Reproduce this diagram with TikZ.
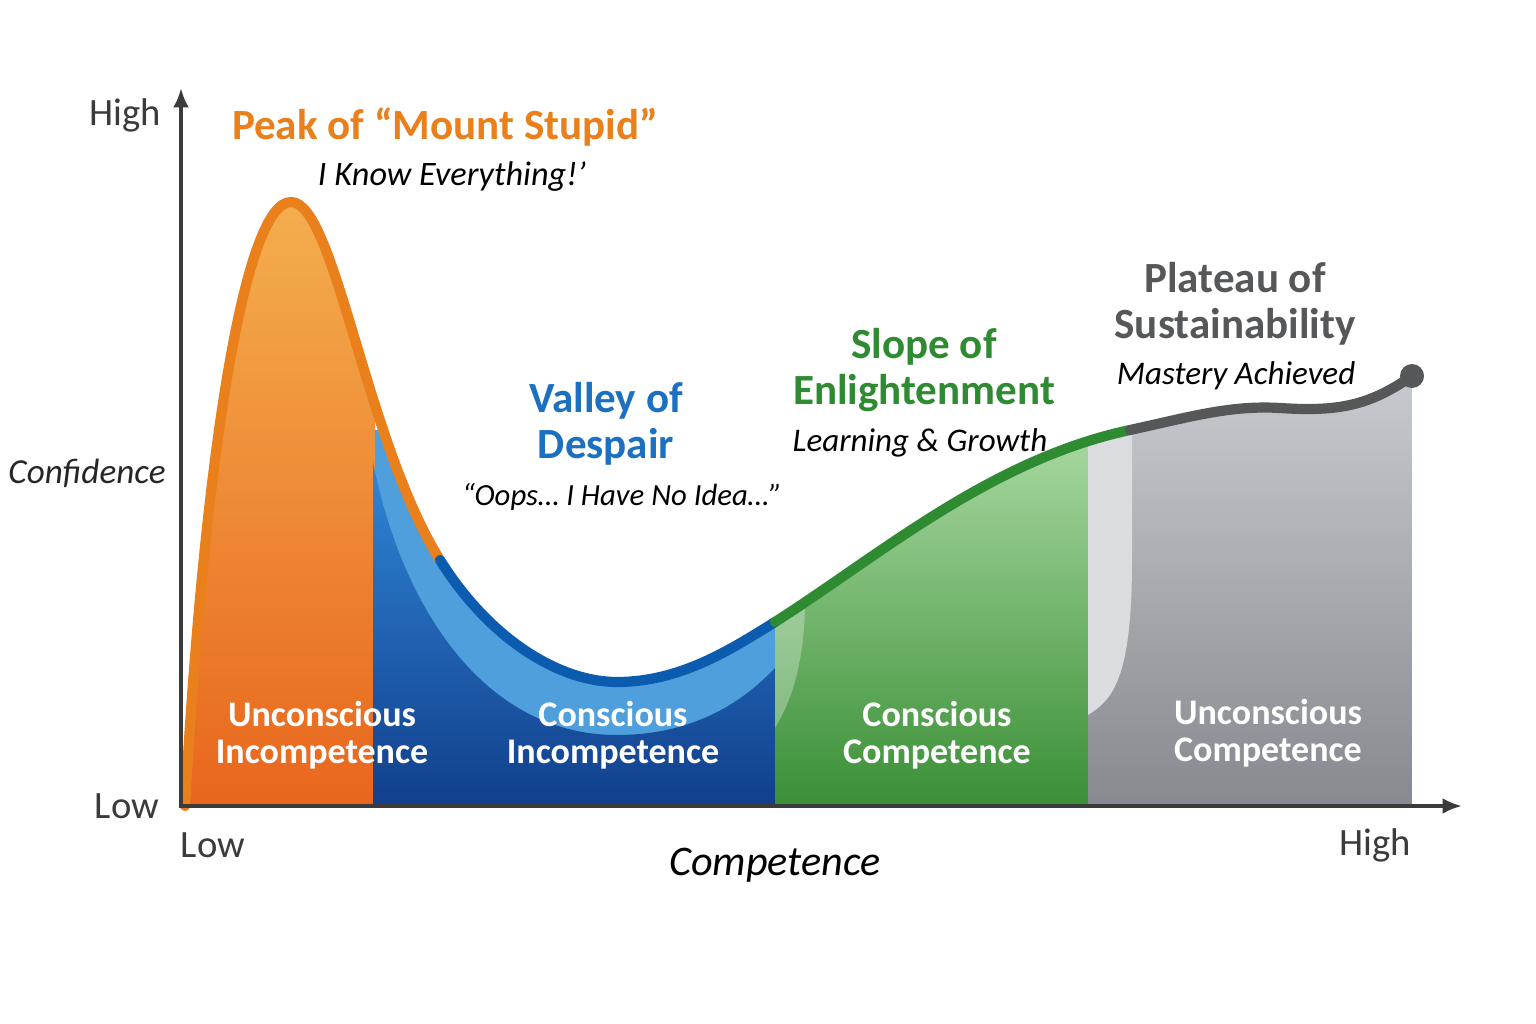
\documentclass[tikz,border=0pt]{standalone}
\usepackage{fontspec}
\setmainfont{Carlito}
\usetikzlibrary{arrows.meta}

\definecolor{axisgray}{HTML}{3B3B3B}
\definecolor{peakline}{HTML}{E9801B}
\definecolor{peaktop}{HTML}{F4AE4E}
\definecolor{peakbot}{HTML}{E8661D}
\definecolor{valleyline}{HTML}{0B5CAE}
\definecolor{valleytitle}{HTML}{1B70C1}
\definecolor{valleytop}{HTML}{2F86D6}
\definecolor{valleybot}{HTML}{113F8C}
\definecolor{valleyband}{HTML}{4E9FDC}
\definecolor{slopeline}{HTML}{2E8B31}
\definecolor{slopetop}{HTML}{A9D9A2}
\definecolor{slopebot}{HTML}{3A8F36}
\definecolor{plateauline}{HTML}{555759}
\definecolor{plateautop}{HTML}{C8CBCF}
\definecolor{plateaubot}{HTML}{86898F}
\definecolor{plateaustrip}{HTML}{DADCDF}

\newcommand{\peakcurve}{(185,806) .. controls (205,450) and (245,202) .. (291,202) .. controls (335,202) and (365,440) .. (440,560)}
\newcommand{\valleycurve}{ .. controls (490,640) and (560,682) .. (617,682) .. controls (680,682) and (730,650) .. (775,622)}
\newcommand{\slopecurve}{ .. controls (880,555) and (990,460) .. (1130,430)}
\newcommand{\plateaucurve}{ .. controls (1190,417) and (1230,405) .. (1280,408) .. controls (1340,412) and (1370,405) .. (1412,376)}

\tikzset{
  axis/.style={line width=2.3pt, axisgray, {Latex[length=11pt,width=9pt]}-{Latex[length=11pt,width=9pt]}},
  curveline/.style={line width=5.8pt, line cap=round},
  axislabel/.style={text=axisgray, font=\fontsize{22}{24}\selectfont},
  title/.style={align=center, font=\fontsize{24.5}{26}\selectfont\bfseries},
  subtitle/.style={font=\fontsize{18.8}{21}\selectfont\itshape},
  zone/.style={align=center, text=white, font=\fontsize{20.5}{21}\selectfont\bfseries}
}

\begin{document}
\begin{tikzpicture}[x=0.02cm, y=-0.02cm]
\useasboundingbox (0,0) rectangle (1536,1024);
\fill[white] (0,0) rectangle (1536,1024);

% areas under the curve
\begin{scope}
\clip \peakcurve \valleycurve \slopecurve \plateaucurve -- (1412,806) -- (185,806) -- cycle;
\shade[top color=peaktop, bottom color=peakbot] (185,200) rectangle (375,806);
\fill[valleyband] (375,430) rectangle (775,806);
\shade[top color=valleytop, bottom color=valleybot] (373,462) .. controls (400,600) and (480,735) .. (617,735) .. controls (690,735) and (740,705) .. (775,668) -- (775,806) -- (373,806) -- cycle;
\shade[top color=slopetop, bottom color=slopebot] (775,430) rectangle (1088,806);
\fill[white, opacity=.3] (775,600) -- (805,600) .. controls (805,660) and (792,700) .. (775,728) -- cycle;
\shade[top color=plateautop, bottom color=plateaubot] (1088,370) rectangle (1412,806);
\fill[plateaustrip] (1088,380) -- (1132,380) -- (1132,560) .. controls (1132,680) and (1112,700) .. (1088,715) -- cycle;
\end{scope}

% the curve
\draw[curveline, peakline] \peakcurve;
\draw[curveline, valleyline] (440,560) \valleycurve;
\draw[curveline, slopeline] (775,622) \slopecurve;
\draw[curveline, plateauline] (1130,430) \plateaucurve;
\fill[plateauline] (1412,376) circle (12);

% axes
\coordinate (origin) at (181,806);
\coordinate (ytip) at (181,88);
\coordinate (xtip) at (1462,806);
\draw[axis] (ytip) -- (origin) -- (xtip);

\node[axislabel] (yhigh) at (125,115) {High};
\node[axislabel] (ylow) at (127,806) {Low};
\node[axislabel, text=black!85, font=\fontsize{20}{22}\selectfont\itshape] (ylabel) at (87,473) {Confidence};
\node[axislabel] (xlow) at (213,845) {Low};
\node[axislabel] (xhigh) at (1375,845) {High};
\node[axislabel, text=black, font=\fontsize{24}{26}\selectfont\itshape] (xlabel) at (775,865) {Competence};

% stage titles
\node[title, text=peakline] (peak) at (445,127) {Peak of “Mount Stupid”};
\node[subtitle, font=\fontsize{19.5}{21}\selectfont\itshape] (peaksub) at (452,177) {I Know Everything!’};
\node[title, text=valleytitle] (valley) at (606,424) {Valley of\\Despair};
\node[subtitle, font=\fontsize{17.5}{20}\selectfont\itshape] (valleysub) at (622,497) {“Oops… I Have No Idea…”};
\node[title, text=slopeline] (slope) at (924,370) {Slope of\\Enlightenment};
\node[subtitle] (slopesub) at (920,443) {Learning \& Growth};
\node[title, text=plateauline] (plateau) at (1235,304) {Plateau of\\Sustainability};
\node[subtitle] (plateausub) at (1236,376) {Mastery Achieved};

% zones
\node[zone] (zoneA) at (322,735) {Unconscious\\Incompetence};
\node[zone] (zoneB) at (613,735) {Conscious\\Incompetence};
\node[zone] (zoneC) at (937,735) {Conscious\\Competence};
\node[zone] (zoneD) at (1268,733) {Unconscious\\Competence};
\end{tikzpicture}
\end{document}
